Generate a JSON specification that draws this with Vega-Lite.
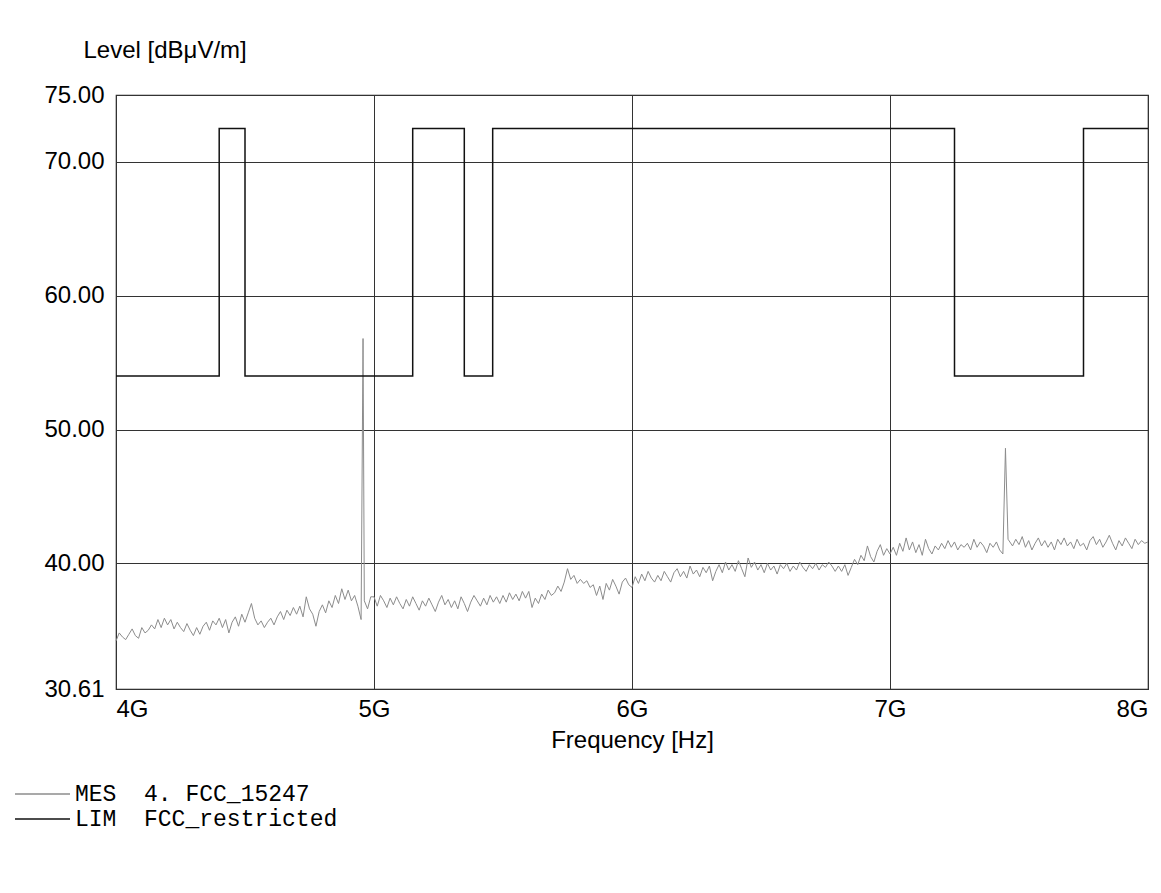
{
  "$schema": "https://vega.github.io/schema/vega-lite/v6.json",
  "width": 1032,
  "height": 594,
  "autosize": {"type": "none"},
  "padding": {"left": 116, "top": 95, "right": 13, "bottom": 204},
  "background": "white",
  "config": {
    "font": "Liberation Sans",
    "view": {"stroke": "#222222", "strokeWidth": 1.2},
    "axis": {"gridColor": "#333333", "gridOpacity": 1, "gridWidth": 1, "domain": false, "ticks": false, "labelColor": "#000000", "titleColor": "#000000", "labelFont": "Liberation Sans", "titleFont": "Liberation Sans", "labelFontSize": 24, "titleFontSize": 24, "titleFontWeight": "normal"}
  },
  "datasets": {
    "lim": [
      {"f": 4.0, "v": 54}, {"f": 4.4, "v": 72.5}, {"f": 4.5, "v": 54}, {"f": 5.15, "v": 72.5}, {"f": 5.35, "v": 54}, {"f": 5.46, "v": 72.5}, {"f": 7.25, "v": 54}, {"f": 7.75, "v": 72.5}, {"f": 8.0, "v": 72.5}
    ],
    "mes": [
      {"f":4.0,"v":34.2},{"f":4.0125,"v":34.8},{"f":4.025,"v":34.5},{"f":4.0375,"v":34.3},{"f":4.05,"v":34.7},{"f":4.0625,"v":35.1},{"f":4.075,"v":34.6},{"f":4.0875,"v":34.4},
      {"f":4.1,"v":35.2},{"f":4.1125,"v":34.8},{"f":4.125,"v":35.0},{"f":4.1375,"v":35.4},{"f":4.15,"v":35.1},{"f":4.1625,"v":35.8},{"f":4.175,"v":35.2},{"f":4.1875,"v":35.9},
      {"f":4.2,"v":35.4},{"f":4.2125,"v":35.8},{"f":4.225,"v":35.1},{"f":4.2375,"v":35.6},{"f":4.25,"v":35.2},{"f":4.2625,"v":34.9},{"f":4.275,"v":35.5},{"f":4.2875,"v":35.0},
      {"f":4.3,"v":34.6},{"f":4.3125,"v":35.2},{"f":4.325,"v":34.7},{"f":4.3375,"v":35.3},{"f":4.35,"v":35.6},{"f":4.3625,"v":35.0},{"f":4.375,"v":35.7},{"f":4.3875,"v":35.4},
      {"f":4.4,"v":35.9},{"f":4.4125,"v":35.2},{"f":4.425,"v":35.8},{"f":4.4375,"v":34.8},{"f":4.45,"v":35.6},{"f":4.4625,"v":36.0},{"f":4.475,"v":35.3},{"f":4.4875,"v":36.2},
      {"f":4.5,"v":35.6},{"f":4.5125,"v":36.3},{"f":4.525,"v":37.0},{"f":4.5375,"v":35.9},{"f":4.55,"v":35.4},{"f":4.5625,"v":35.7},{"f":4.575,"v":35.2},{"f":4.5875,"v":35.6},
      {"f":4.6,"v":35.9},{"f":4.6125,"v":35.4},{"f":4.625,"v":36.0},{"f":4.6375,"v":36.4},{"f":4.65,"v":35.8},{"f":4.6625,"v":36.5},{"f":4.675,"v":36.1},{"f":4.6875,"v":36.7},
      {"f":4.7,"v":36.2},{"f":4.7125,"v":36.8},{"f":4.725,"v":36.0},{"f":4.7375,"v":37.5},{"f":4.75,"v":36.6},{"f":4.7625,"v":36.2},{"f":4.775,"v":35.3},{"f":4.7875,"v":36.4},
      {"f":4.8,"v":36.9},{"f":4.8125,"v":36.3},{"f":4.825,"v":37.2},{"f":4.8375,"v":36.7},{"f":4.85,"v":37.6},{"f":4.8625,"v":37.0},{"f":4.875,"v":38.1},{"f":4.8875,"v":37.3},
      {"f":4.9,"v":38.0},{"f":4.9125,"v":37.2},{"f":4.925,"v":37.6},{"f":4.9375,"v":36.8},{"f":4.95,"v":35.8},{"f":4.9575,"v":56.8},{"f":4.9625,"v":37.2},{"f":4.975,"v":36.6},{"f":4.9875,"v":37.5},
      {"f":5.0,"v":37.5},{"f":5.0125,"v":36.8},{"f":5.025,"v":37.6},{"f":5.0375,"v":37.2},{"f":5.05,"v":36.7},{"f":5.0625,"v":37.4},{"f":5.075,"v":36.9},{"f":5.0875,"v":37.5},
      {"f":5.1,"v":37.0},{"f":5.1125,"v":36.6},{"f":5.125,"v":37.3},{"f":5.1375,"v":36.8},{"f":5.15,"v":37.5},{"f":5.1625,"v":37.0},{"f":5.175,"v":36.5},{"f":5.1875,"v":37.2},
      {"f":5.2,"v":36.8},{"f":5.2125,"v":37.4},{"f":5.225,"v":36.9},{"f":5.2375,"v":36.4},{"f":5.25,"v":37.1},{"f":5.2625,"v":37.6},{"f":5.275,"v":36.9},{"f":5.2875,"v":37.3},
      {"f":5.3,"v":36.7},{"f":5.3125,"v":37.2},{"f":5.325,"v":36.6},{"f":5.3375,"v":37.5},{"f":5.35,"v":37.0},{"f":5.3625,"v":36.4},{"f":5.375,"v":37.1},{"f":5.3875,"v":37.6},
      {"f":5.4,"v":37.2},{"f":5.4125,"v":36.8},{"f":5.425,"v":37.4},{"f":5.4375,"v":36.9},{"f":5.45,"v":37.6},{"f":5.4625,"v":37.1},{"f":5.475,"v":37.5},{"f":5.4875,"v":37.0},
      {"f":5.5,"v":37.6},{"f":5.5125,"v":37.1},{"f":5.525,"v":37.8},{"f":5.5375,"v":37.3},{"f":5.55,"v":37.7},{"f":5.5625,"v":37.2},{"f":5.575,"v":37.9},{"f":5.5875,"v":37.4},
      {"f":5.6,"v":37.9},{"f":5.6125,"v":36.7},{"f":5.625,"v":37.4},{"f":5.6375,"v":37.0},{"f":5.65,"v":37.7},{"f":5.6625,"v":37.3},{"f":5.675,"v":38.0},{"f":5.6875,"v":37.6},
      {"f":5.7,"v":37.8},{"f":5.7125,"v":38.3},{"f":5.725,"v":37.9},{"f":5.7375,"v":38.6},{"f":5.75,"v":39.6},{"f":5.7625,"v":38.8},{"f":5.775,"v":39.1},{"f":5.7875,"v":38.5},
      {"f":5.8,"v":38.8},{"f":5.8125,"v":38.5},{"f":5.825,"v":38.7},{"f":5.8375,"v":38.2},{"f":5.85,"v":38.4},{"f":5.8625,"v":37.6},{"f":5.875,"v":38.3},{"f":5.8875,"v":37.3},
      {"f":5.9,"v":38.5},{"f":5.9125,"v":38.0},{"f":5.925,"v":38.8},{"f":5.9375,"v":38.3},{"f":5.95,"v":37.7},{"f":5.9625,"v":38.6},{"f":5.975,"v":38.9},{"f":5.9875,"v":38.4},
      {"f":6.0,"v":38.2},{"f":6.0125,"v":39.0},{"f":6.025,"v":38.5},{"f":6.0375,"v":39.2},{"f":6.05,"v":38.7},{"f":6.0625,"v":39.4},{"f":6.075,"v":38.9},{"f":6.0875,"v":38.6},
      {"f":6.1,"v":39.1},{"f":6.1125,"v":38.7},{"f":6.125,"v":39.4},{"f":6.1375,"v":39.0},{"f":6.15,"v":38.6},{"f":6.1625,"v":39.3},{"f":6.175,"v":39.6},{"f":6.1875,"v":39.0},
      {"f":6.2,"v":39.4},{"f":6.2125,"v":38.9},{"f":6.225,"v":39.8},{"f":6.2375,"v":39.2},{"f":6.25,"v":39.5},{"f":6.2625,"v":39.0},{"f":6.275,"v":39.7},{"f":6.2875,"v":39.3},
      {"f":6.3,"v":39.8},{"f":6.3125,"v":38.7},{"f":6.325,"v":39.4},{"f":6.3375,"v":39.9},{"f":6.35,"v":39.3},{"f":6.3625,"v":40.1},{"f":6.375,"v":39.5},{"f":6.3875,"v":39.9},
      {"f":6.4,"v":39.4},{"f":6.4125,"v":40.2},{"f":6.425,"v":39.6},{"f":6.4375,"v":39.0},{"f":6.45,"v":40.4},{"f":6.4625,"v":39.7},{"f":6.475,"v":40.1},{"f":6.4875,"v":39.5},
      {"f":6.5,"v":39.9},{"f":6.5125,"v":39.3},{"f":6.525,"v":40.0},{"f":6.5375,"v":39.5},{"f":6.55,"v":39.8},{"f":6.5625,"v":39.2},{"f":6.575,"v":39.9},{"f":6.5875,"v":39.6},
      {"f":6.6,"v":40.0},{"f":6.6125,"v":39.4},{"f":6.625,"v":39.8},{"f":6.6375,"v":39.5},{"f":6.65,"v":40.1},{"f":6.6625,"v":39.7},{"f":6.675,"v":39.4},{"f":6.6875,"v":39.9},
      {"f":6.7,"v":39.6},{"f":6.7125,"v":40.0},{"f":6.725,"v":39.5},{"f":6.7375,"v":39.9},{"f":6.75,"v":39.7},{"f":6.7625,"v":40.1},{"f":6.775,"v":39.8},{"f":6.7875,"v":39.4},
      {"f":6.8,"v":39.8},{"f":6.8125,"v":39.4},{"f":6.825,"v":39.9},{"f":6.8375,"v":39.1},{"f":6.85,"v":39.7},{"f":6.8625,"v":40.3},{"f":6.875,"v":39.9},{"f":6.8875,"v":40.6},
      {"f":6.9,"v":40.2},{"f":6.9125,"v":41.3},{"f":6.925,"v":40.5},{"f":6.9375,"v":40.1},{"f":6.95,"v":40.9},{"f":6.9625,"v":41.4},{"f":6.975,"v":40.6},{"f":6.9875,"v":41.1},
      {"f":7.0,"v":40.7},{"f":7.0125,"v":41.2},{"f":7.025,"v":40.6},{"f":7.0375,"v":41.5},{"f":7.05,"v":40.9},{"f":7.0625,"v":41.9},{"f":7.075,"v":41.0},{"f":7.0875,"v":41.6},
      {"f":7.1,"v":40.8},{"f":7.1125,"v":41.4},{"f":7.125,"v":40.6},{"f":7.1375,"v":41.8},{"f":7.15,"v":41.1},{"f":7.1625,"v":40.7},{"f":7.175,"v":41.3},{"f":7.1875,"v":41.0},
      {"f":7.2,"v":41.5},{"f":7.2125,"v":41.1},{"f":7.225,"v":41.7},{"f":7.2375,"v":41.2},{"f":7.25,"v":41.6},{"f":7.2625,"v":41.0},{"f":7.275,"v":41.4},{"f":7.2875,"v":41.2},
      {"f":7.3,"v":41.5},{"f":7.3125,"v":41.0},{"f":7.325,"v":41.8},{"f":7.3375,"v":41.2},{"f":7.35,"v":41.6},{"f":7.3625,"v":41.3},{"f":7.375,"v":40.8},{"f":7.3875,"v":41.5},
      {"f":7.4,"v":41.2},{"f":7.4125,"v":41.6},{"f":7.425,"v":41.0},{"f":7.4375,"v":40.7},{"f":7.4475,"v":48.6},{"f":7.4575,"v":41.8},{"f":7.475,"v":41.3},{"f":7.4875,"v":41.8},
      {"f":7.5,"v":41.4},{"f":7.5125,"v":42.0},{"f":7.525,"v":41.2},{"f":7.5375,"v":41.7},{"f":7.55,"v":41.0},{"f":7.5625,"v":41.5},{"f":7.575,"v":41.9},{"f":7.5875,"v":41.3},
      {"f":7.6,"v":41.7},{"f":7.6125,"v":41.2},{"f":7.625,"v":41.6},{"f":7.6375,"v":41.0},{"f":7.65,"v":41.8},{"f":7.6625,"v":41.4},{"f":7.675,"v":41.9},{"f":7.6875,"v":41.3},
      {"f":7.7,"v":41.6},{"f":7.7125,"v":41.1},{"f":7.725,"v":41.8},{"f":7.7375,"v":41.3},{"f":7.75,"v":41.5},{"f":7.7625,"v":41.0},{"f":7.775,"v":41.7},{"f":7.7875,"v":42.0},
      {"f":7.8,"v":41.4},{"f":7.8125,"v":41.8},{"f":7.825,"v":41.2},{"f":7.8375,"v":41.6},{"f":7.85,"v":42.1},{"f":7.8625,"v":41.5},{"f":7.875,"v":41.0},{"f":7.8875,"v":41.7},
      {"f":7.9,"v":41.3},{"f":7.9125,"v":41.9},{"f":7.925,"v":41.5},{"f":7.9375,"v":41.1},{"f":7.95,"v":41.8},{"f":7.9625,"v":41.4},{"f":7.975,"v":41.7},{"f":7.9875,"v":41.5},
      {"f":8.0,"v":41.6}
    ]
  },
  "encoding": {
    "x": {"field": "f", "type": "quantitative", "scale": {"domain": [4, 8], "nice": false, "zero": false},
      "axis": {"values": [4, 5, 6, 7, 8], "labelExpr": "datum.value + 'G'", "labelFlush": true, "labelPadding": 8, "title": "Frequency [Hz]", "titlePadding": 7}},
    "y": {"field": "v", "type": "quantitative", "scale": {"domain": [30.61, 75], "nice": false, "zero": false},
      "axis": {"values": [30.61, 40, 50, 60, 70, 75], "format": ".2f", "labelPadding": 12, "title": "Level [dBμV/m]", "titleFontSize": 24, "titleAngle": 0, "titleAlign": "left", "titleBaseline": "alphabetic", "titleX": -33, "titleY": -38}}
  },
  "layer": [
    {
      "data": {"name": "mes"},
      "mark": {"type": "line", "strokeWidth": 1},
      "encoding": {
        "color": {"datum": "MES\u00a0\u00a04. FCC_15247", "type": "nominal",
          "scale": {"domain": ["MES\u00a0\u00a04. FCC_15247", "LIM\u00a0\u00a0FCC_restricted"], "range": ["#8c8c8c", "#111111"]},
          "legend": {"orient": "none", "legendX": -102, "legendY": 688, "title": null, "symbolType": "stroke", "symbolSize": 3025, "symbolStrokeWidth": 1.4, "labelFont": "Liberation Mono", "labelFontSize": 23, "labelColor": "#000000", "labelLimit": 0, "labelOffset": 4, "clipHeight": 22, "rowPadding": 2, "padding": 0}}
      }
    },
    {
      "data": {"name": "lim"},
      "mark": {"type": "line", "interpolate": "step-after", "strokeWidth": 1.5},
      "encoding": {
        "color": {"datum": "LIM\u00a0\u00a0FCC_restricted", "type": "nominal"}
      }
    }
  ]
}
